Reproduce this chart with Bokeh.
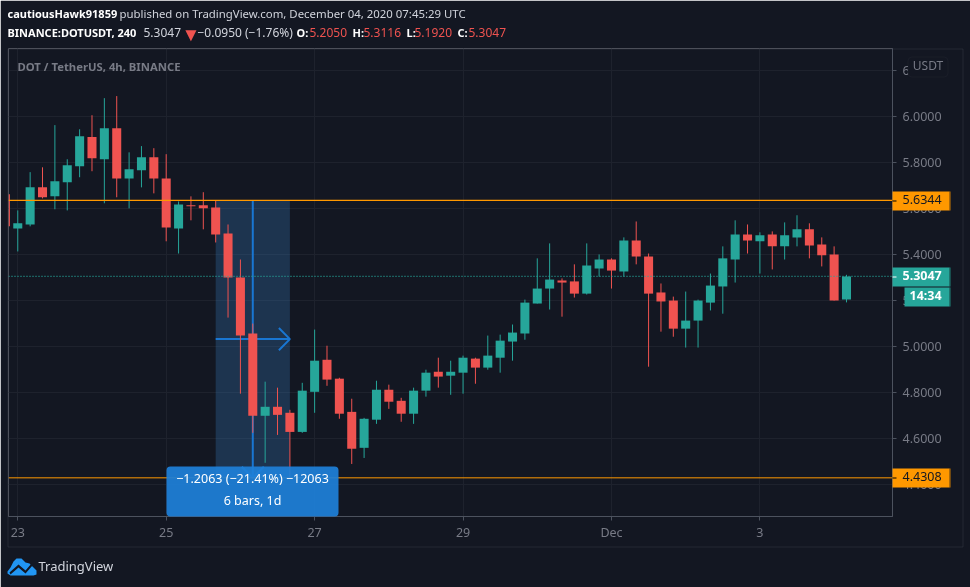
from bokeh.plotting import figure
from bokeh.models import (Label, BoxAnnotation, PolyAnnotation, Span, FixedTicker,
                          Range1d, ColumnDataSource)
from bokeh.embed import file_html
from bokeh.resources import INLINE

# ---- data (4h candles, index 0 = 23 Nov 00:00) ----
bar_index = list(range(-1, 68))
opens = [5.661, 5.513, 5.530, 5.691, 5.652, 5.713, 5.783, 5.909, 5.813, 5.948, 5.730, 5.765, 5.822, 5.730,
         5.513, 5.613, 5.613, 5.604, 5.491, 5.300, 5.057, 4.700, 4.739, 4.713, 4.630, 4.804, 4.943, 4.861,
         4.717, 4.561, 4.683, 4.813, 4.765, 4.709, 4.809, 4.891, 4.874, 4.887, 4.948, 4.909, 4.952, 5.022,
         5.057, 5.187, 5.252, 5.287, 5.283, 5.230, 5.339, 5.378, 5.326, 5.461, 5.391, 5.235, 5.200, 5.078,
         5.113, 5.191, 5.261, 5.378, 5.487, 5.457, 5.487, 5.435, 5.474, 5.509, 5.443, 5.400, 5.2050]
highs = [5.661, 5.591, 5.757, 5.778, 5.961, 5.813, 5.943, 6.004, 6.078, 6.087, 5.843, 5.870, 5.861, 5.835,
         5.630, 5.652, 5.670, 5.635, 5.530, 5.378, 5.100, 4.848, 4.822, 4.726, 4.843, 5.074, 5.004, 4.865,
         4.774, 4.691, 4.852, 4.835, 4.778, 4.822, 4.900, 4.952, 4.939, 4.961, 4.952, 5.048, 5.052, 5.096,
         5.204, 5.383, 5.448, 5.296, 5.357, 5.448, 5.400, 5.383, 5.474, 5.543, 5.404, 5.274, 5.217, 5.239,
         5.204, 5.317, 5.435, 5.548, 5.530, 5.496, 5.500, 5.539, 5.570, 5.535, 5.474, 5.435, 5.3116]
lows = [5.522, 5.413, 5.522, 5.643, 5.596, 5.591, 5.735, 5.761, 5.622, 5.648, 5.600, 5.691, 5.665, 5.457,
        5.404, 5.548, 5.509, 5.452, 5.126, 4.796, 4.626, 4.496, 4.617, 4.430, 4.626, 4.713, 4.830, 4.687,
        4.491, 4.517, 4.665, 4.730, 4.674, 4.665, 4.783, 4.822, 4.791, 4.796, 4.839, 4.900, 4.887, 4.939,
        5.030, 5.187, 5.161, 5.130, 5.213, 5.226, 5.304, 5.252, 5.304, 5.357, 4.913, 5.065, 5.043, 4.996,
        4.996, 5.157, 5.143, 5.278, 5.404, 5.317, 5.335, 5.378, 5.435, 5.383, 5.348, 5.200, 5.1920]
closes = [5.522, 5.535, 5.691, 5.648, 5.717, 5.787, 5.913, 5.817, 5.948, 5.730, 5.770, 5.822, 5.730, 5.517,
          5.617, 5.609, 5.600, 5.487, 5.300, 5.048, 4.700, 4.739, 4.704, 4.630, 4.809, 4.939, 4.857, 4.709,
          4.557, 4.687, 4.813, 4.761, 4.709, 4.809, 4.887, 4.870, 4.891, 4.952, 4.909, 4.961, 5.026, 5.061,
          5.191, 5.252, 5.291, 5.278, 5.230, 5.352, 5.378, 5.330, 5.461, 5.391, 5.230, 5.196, 5.078, 5.113,
          5.200, 5.265, 5.383, 5.487, 5.461, 5.483, 5.435, 5.483, 5.509, 5.439, 5.396, 5.200, 5.3047]

date_ticks = [0, 12, 24, 36, 48, 60]
date_labels = ["23", "25", "27", "29", "Dec", "3"]
price_ticks = [6.2, 6.0, 5.8, 5.6, 5.4, 5.2, 5.0, 4.8, 4.6, 4.4]

range_start_bar, range_end_bar = 16, 22
range_top, range_bottom = 5.6344, 4.4308
last_price = 5.3047

BG = "#131722"; LINE = "#4c525e"; GRID = "#1e222d"; MUTED = "#787b86"; TEXT = "#d1d4dc"
UP = "#26a69a"; DOWN = "#ef5350"; ORANGE = "#ff9800"; BLUE = "#1976d2"
FONT = "Noto Sans"

p = figure(width=970, height=587, output_backend="svg", toolbar_location=None,
           x_range=Range1d(-0.75, 70.72), y_range=Range1d(6 - (515.5 - 116) / 230, 6 + (116 - 48.5) / 230),
           x_axis_location="below", y_axis_location="right",
           min_border_left=8, min_border_right=78, min_border_top=48, min_border_bottom=71,
           background_fill_color=BG, border_fill_color=BG)
p.styles = {"position": "fixed", "left": "0px", "top": "0px"}
p.outline_line_color = None

p.xaxis.ticker = FixedTicker(ticks=date_ticks)
p.xaxis.major_label_overrides = dict(zip(date_ticks, date_labels))
p.yaxis.ticker = FixedTicker(ticks=price_ticks)
p.yaxis.major_label_overrides = {t: f"{t:.4f}" for t in price_ticks}
for ax in (p.xaxis[0], p.yaxis[0]):
    ax.axis_line_color = LINE
    ax.major_tick_line_color = LINE
    ax.major_tick_out = 4
    ax.major_tick_in = 0
    ax.minor_tick_line_color = None
    ax.major_label_text_color = MUTED
    ax.major_label_text_font = FONT
    ax.major_label_text_font_size = "12.5px"
p.yaxis.major_label_standoff = 6
p.xaxis.major_label_standoff = 3
p.xgrid.ticker = FixedTicker(ticks=date_ticks)
p.ygrid.ticker = FixedTicker(ticks=price_ticks)
p.xgrid.grid_line_color = GRID
p.ygrid.grid_line_color = GRID

# measure tool (behind candles)
p.quad(left=[range_start_bar], right=[range_end_bar], top=[range_top], bottom=[range_bottom],
       fill_color="#3b8bd6", fill_alpha=0.25, line_color=None)
mid_bar = (range_start_bar + range_end_bar) / 2
mid_price = (range_top + range_bottom) / 2
p.multi_line(xs=[[mid_bar, mid_bar], [range_start_bar, range_end_bar],
                 [range_end_bar - 0.89, range_end_bar, range_end_bar - 0.89],
                 [mid_bar - 0.89, mid_bar, mid_bar + 0.89]],
             ys=[[range_top, range_bottom], [mid_price, mid_price],
                 [mid_price + 0.048, mid_price, mid_price - 0.048],
                 [range_bottom + 0.048, range_bottom, range_bottom + 0.048]],
             line_color=BLUE, line_width=2)

# candles
colors = [UP if c >= o else DOWN for o, c in zip(opens, closes)]
src = ColumnDataSource(dict(x=bar_index, o=opens, h=highs, l=lows, c=closes, color=colors))
p.segment(x0="x", x1="x", y0="l", y1="h", color="color", line_width=1, source=src)
p.vbar(x="x", width=0.73, top="o", bottom="c", fill_color="color", line_color=None, source=src)

# price lines
p.add_layout(Span(location=range_top, dimension="width", line_color=ORANGE, line_width=1.2))
p.add_layout(Span(location=range_bottom, dimension="width", line_color=ORANGE, line_width=1))
p.add_layout(Span(location=last_price, dimension="width", line_color=UP, line_width=1.3, line_dash=[1, 2]))

# overlay page layer for everything outside the price pane (pixel coordinates of the page)
q = figure(width=970, height=587, output_backend="svg", toolbar_location=None,
           x_range=Range1d(0, 970), y_range=Range1d(587, 0),
           min_border=0, background_fill_alpha=0, border_fill_alpha=0,
           x_axis_location=None, y_axis_location=None)
q.styles = {"position": "fixed", "left": "0px", "top": "0px", "z-index": "2"}
q.outline_line_color = None
q.grid.visible = False


def txt(s, x, y, color=TEXT, size=13, weight="normal", align="left"):
    q.add_layout(Label(x=x, y=y - 6, text=s, text_color=color,
                       text_font=FONT, text_font_size=f"{size}px", text_font_style=weight,
                       text_align=align, text_baseline="alphabetic"))


def box(l, r, t, b, fill, alpha=1.0, radius=0, line=None):
    q.add_layout(BoxAnnotation(left=l, right=r, top=t, bottom=b, fill_color=fill, fill_alpha=alpha,
                               line_color=line, border_radius=radius, editable=False))


# outer frame
box(7.5, 962.5, 48.5, 546.5, None, 0, line=LINE)
# measure label
box(166, 338, 466, 516, "#1e80d8", 0.93, radius=4)
txt("−1.2063 (−21.41%) −12063", 252, 484, "#ffffff", 12.5, align="center")
txt("6 bars, 1d", 252, 506, "#ffffff", 12.5, align="center")

# price scale tags
for t, b, fill, edge, s, col, w in [(191, 210, ORANGE, "#cc7a00", "5.6344", "#131722", "normal"),
                                    (267, 286, UP, "#1e857b", "5.3047", "#ffffff", "bold"),
                                    (468, 487, ORANGE, "#cc7a00", "4.4308", "#131722", "normal")]:
    box(892, 949, t, b, fill)
    box(949, 950, t, b, edge)
    txt(s, 902, b - 5, col, 12.5, w)
box(904, 949, 287, 306, UP)
box(949, 950, 287, 306, "#1e857b")
txt("14:34", 909, 301, "#ffffff", 12.5, "bold")
box(892, 896, 200, 201, "#000000")
box(892, 896, 477, 478, "#000000")
box(892, 896, 276, 277, "#ffffff")
# USDT button
box(907.5, 947.5, 56.5, 76.5, BG, radius=4, line="#2a2e39")
txt("USDT", 927.5, 71, MUTED, 12, align="center")

# watermark & header
txt("DOT / TetherUS, 4h, BINANCE", 17, 72, MUTED, 11.3, "bold")
txt("cautiousHawk91859", 7, 19, "#ffffff", 11, "bold")
txt("published on TradingView.com, December 04, 2020 07:45:29 UTC", 119, 19, TEXT, 11.4)
txt("BINANCE:DOTUSDT, 240", 7, 38, "#ffffff", 11, "bold")
txt("5.3047", 143, 38, TEXT, 12)
txt("▼", 181, 39, DOWN, 19)
txt("−0.0950 (−1.76%)", 197, 38, TEXT, 12)
for lx, ltext, vx, vtext in [(296, "O:", 309, "5.2050"), (352, "H:", 363, "5.3116"),
                             (406, "L:", 414, "5.1920"), (457, "C:", 468, "5.3047")]:
    txt(ltext, lx, 38, "#ffffff", 11, "bold")
    txt(vtext, vx, 38, DOWN, 12)

# logo
q.add_layout(PolyAnnotation(xs=[7, 10, 13, 16, 21, 25, 29, 32, 36, 36, 33, 10, 7],
                            ys=[571, 567, 561, 558, 558, 562, 563, 566, 570, 574, 575, 575, 573],
                            fill_color="#2196f3", fill_alpha=1, line_color=None, editable=False))
q.add_layout(PolyAnnotation(xs=[9, 18, 25, 31, 32, 25, 18, 10],
                            ys=[572, 564, 570, 563, 565, 573, 567, 574],
                            fill_color=BG, fill_alpha=1, line_color=None, editable=False))
txt("TradingView", 38, 571, TEXT, 13)

open("out.html", "w").write(file_html([p, q], INLINE))
